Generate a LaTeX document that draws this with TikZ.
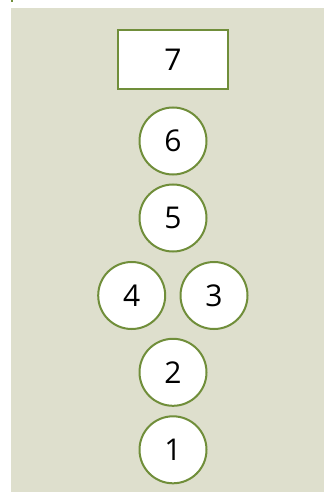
\documentclass[tikz,border=0pt]{standalone}
\usepackage{fontspec}
\setmainfont{Open Sans}
\definecolor{bgc}{RGB}{222,223,205}
\definecolor{grn}{RGB}{112,142,58}
\begin{document}
\begin{tikzpicture}[x=1bp,y=-1bp,
  disc/.style={circle,draw=grn,line width=2bp,fill=white,minimum size=67bp,inner sep=0pt,font=\fontsize{30bp}{32bp}\selectfont},
  topbox/.style={rectangle,draw=grn,line width=2bp,fill=white,minimum width=110bp,minimum height=59bp,inner sep=0pt,font=\fontsize{30bp}{32bp}\selectfont}]
\useasboundingbox (0,0) rectangle (324,493);
\fill[bgc] (11,8) rectangle (324,492);
\fill[grn] (11.3,0) rectangle (13.3,2.3);
\node[topbox] (n7) at (173,60) {7};
\node[disc] (n6) at (173,141) {6};
\node[disc] (n5) at (173,218) {5};
\node[disc] (n4) at (131.7,295.5) {4};
\node[disc] (n3) at (214,295.5) {3};
\node[disc] (n2) at (173,372.3) {2};
\node[disc] (n1) at (173,449.8) {1};
\end{tikzpicture}
\end{document}
